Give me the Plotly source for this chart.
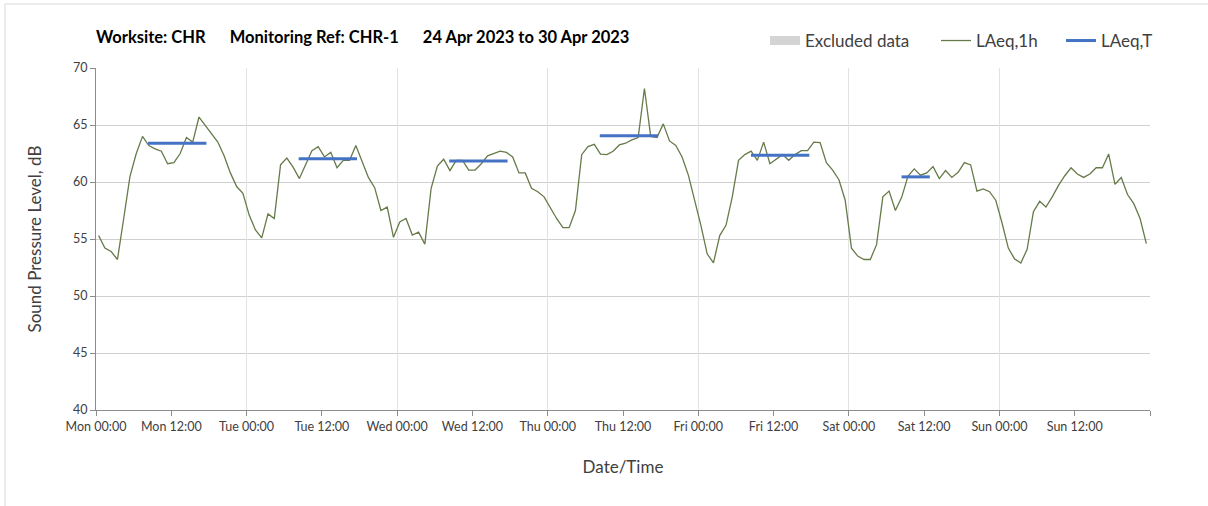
"""
Noise monitoring chart: hourly LAeq with daytime LAeq,T segments.
"""
from datetime import datetime, timedelta

import plotly.graph_objects as go


COLOR_TEXT = '#404040'
COLOR_GRID = '#d0d0d0'
COLOR_VGRID = '#e2e2e2'
COLOR_AXIS = '#8c8c8c'
COLOR_LAEQ1H = '#667a4a'
COLOR_LAEQT = '#4472c4'
FONT = 'Lato, Open Sans, sans-serif'

START = datetime(2023, 4, 24, 0, 0)

# hourly LAeq,1h values, Mon 24 Apr 00:00 -> Sun 30 Apr 23:00
laeq_1h = [
    # Mon
    55.3, 54.2, 53.9, 53.2, 56.8, 60.5, 62.5, 64.0, 63.2, 62.9, 62.7, 61.6,
    61.7, 62.5, 63.9, 63.5, 65.7, 65.0, 64.2, 63.5, 62.3, 60.8, 59.6, 59.0,
    # Tue
    57.1, 55.8, 55.1, 57.2, 56.8, 61.5, 62.1, 61.3, 60.3, 61.6, 62.75, 63.1,
    62.2, 62.6, 61.25, 61.9, 61.9, 63.2, 61.8, 60.4, 59.5, 57.5, 57.8, 55.15,
    # Wed
    56.5, 56.8, 55.35, 55.6, 54.55, 59.45, 61.4, 62.0, 61.0, 61.9, 61.9, 61.05,
    61.05, 61.6, 62.3, 62.5, 62.7, 62.6, 62.2, 60.8, 60.8, 59.45, 59.15, 58.7,
    # Thu
    57.7, 56.8, 56.0, 56.0, 57.5, 62.4, 63.1, 63.3, 62.45, 62.4, 62.7, 63.25,
    63.4, 63.7, 63.9, 68.2, 64.0, 63.9, 65.1, 63.6, 63.2, 62.2, 60.6, 58.4,
    # Fri
    56.2, 53.7, 52.9, 55.3, 56.2, 58.7, 61.9, 62.4, 62.7, 61.9, 63.5, 61.6,
    62.0, 62.4, 61.9, 62.4, 62.75, 62.75, 63.5, 63.45, 61.7, 61.05, 60.2, 58.4,
    # Sat
    54.2, 53.5, 53.2, 53.2, 54.5, 58.7, 59.2, 57.5, 58.65, 60.5, 61.15, 60.6,
    60.8, 61.35, 60.3, 61.0, 60.4, 60.85, 61.7, 61.5, 59.2, 59.4, 59.15, 58.4,
    # Sun
    56.4, 54.2, 53.25, 52.9, 54.1, 57.4, 58.3, 57.8, 58.7, 59.7, 60.55, 61.25,
    60.7, 60.4, 60.7, 61.25, 61.25, 62.45, 59.8, 60.4, 58.9, 58.1, 56.8, 54.6,
]

# daytime LAeq,T periods (day index, start hour, end hour, level)
laeqT_day = [0, 1, 2, 3, 4, 5]
laeqT_start_h = [8.3, 8.3, 8.3, 8.3, 8.4, 8.4]
laeqT_end_h = [17.6, 17.6, 17.6, 17.6, 17.7, 12.9]
laeqT_value = [63.4, 62.05, 61.85, 64.05, 62.35, 60.45]

tick_labels = ['Mon 00:00', 'Mon 12:00', 'Tue 00:00', 'Tue 12:00', 'Wed 00:00',
               'Wed 12:00', 'Thu 00:00', 'Thu 12:00', 'Fri 00:00', 'Fri 12:00',
               'Sat 00:00', 'Sat 12:00', 'Sun 00:00', 'Sun 12:00', '']


# timestamps of the hourly values (plotted slightly into each hour)
times = [START + timedelta(hours=i, minutes=25) for i in range(len(laeq_1h))]
tick_vals = [START + timedelta(hours=12 * i) for i in range(len(tick_labels))]
x_end = START + timedelta(days=7)


def px_x(p):
    # page pixel -> paper x (plot area spans 96..1150)
    return (p - 96) / 1054


fig = go.Figure()

# legend-only entry, no excluded periods in this week
fig.add_trace(go.Scatter(
    x=[None], y=[None], mode='lines', name='Excluded data',
    line=dict(color='#d4d4d4', width=9), legend='legend',
))

fig.add_trace(go.Scatter(
    x=times, y=laeq_1h, mode='lines', name='LAeq,1h',
    line=dict(color=COLOR_LAEQ1H, width=1.3), legend='legend2',
))

# LAeq,T segments as one trace, separated by None
seg_x, seg_y = [], []
for d, h0, h1, v in zip(laeqT_day, laeqT_start_h, laeqT_end_h, laeqT_value):
    day = START + timedelta(days=d)
    seg_x += [day + timedelta(hours=h0), day + timedelta(hours=h1), None]
    seg_y += [v, v, None]

fig.add_trace(go.Scatter(
    x=seg_x, y=seg_y, mode='lines', name='LAeq,T',
    line=dict(color=COLOR_LAEQT, width=3),
    connectgaps=False, legend='legend3',
))

# overlay axis only used for the daily vertical gridlines
fig.add_trace(go.Scatter(x=[START], y=[None], xaxis='x2', showlegend=False,
                         hoverinfo='skip'))

legend_style = dict(
    orientation='h', xanchor='left', y=1.079, yanchor='middle',
    font=dict(size=17, color=COLOR_TEXT), bgcolor='rgba(0,0,0,0)',
)

fig.update_layout(
    width=1208, height=506,
    paper_bgcolor='white', plot_bgcolor='white',
    margin=dict(l=96, r=58, t=68, b=96),
    font=dict(family=FONT, color=COLOR_TEXT, size=12),
    title=dict(
        text='<b>Worksite: CHR' + '&nbsp;' * 6 + 'Monitoring Ref: CHR-1'
             + '&nbsp;' * 6 + '24 Apr 2023 to 30 Apr 2023</b>',
        font=dict(family=FONT, color='#000000', size=16.5),
        x=96 / 1208, xanchor='left', xref='container',
        y=1 - 37 / 506, yanchor='middle', yref='container',
    ),
    legend=dict(x=px_x(765), **legend_style),
    legend2=dict(x=px_x(936), **legend_style),
    legend3=dict(x=px_x(1061), **legend_style),
    xaxis=dict(
        type='date',
        range=[START, x_end],
        tickvals=tick_vals, ticktext=tick_labels,
        showgrid=False,
        showline=True, linecolor=COLOR_AXIS, linewidth=1,
        ticks='outside', ticklen=5, tickcolor=COLOR_AXIS,
        tickfont=dict(size=12.5, color=COLOR_TEXT),
        title=dict(text='Date/Time', font=dict(size=17, color=COLOR_TEXT),
                   standoff=28),
        zeroline=False,
    ),
    xaxis2=dict(
        type='date', overlaying='x', range=[START, x_end],
        dtick=86400000, tick0=START,
        showgrid=True, gridcolor=COLOR_VGRID, gridwidth=1,
        showticklabels=False, ticks='', showline=False, zeroline=False,
    ),
    yaxis=dict(
        range=[40, 70], dtick=5,
        showgrid=True, gridcolor=COLOR_GRID, gridwidth=1,
        showline=True, linecolor=COLOR_AXIS, linewidth=1,
        ticks='outside', ticklen=5, tickcolor=COLOR_AXIS,
        tickfont=dict(size=12.5, color=COLOR_TEXT),
        title=dict(text='Sound Pressure Level, dB',
                   font=dict(size=17, color=COLOR_TEXT), standoff=27),
        zeroline=False,
    ),
    shapes=[dict(
        type='rect', xref='paper', yref='paper',
        x0=px_x(5), x1=px_x(1210),
        y0=-(510 - 410) / 342, y1=1 + (68 - 4) / 342,
        line=dict(color='#d9d9d9', width=1), fillcolor='rgba(0,0,0,0)',
        layer='below',
    )],
)

# the page body has a default 8px margin; remove it so the figure sits at 0,0
fig.write_html('out.html', config=dict(displayModeBar=False),
               post_script="document.body.style.margin='0px';")
